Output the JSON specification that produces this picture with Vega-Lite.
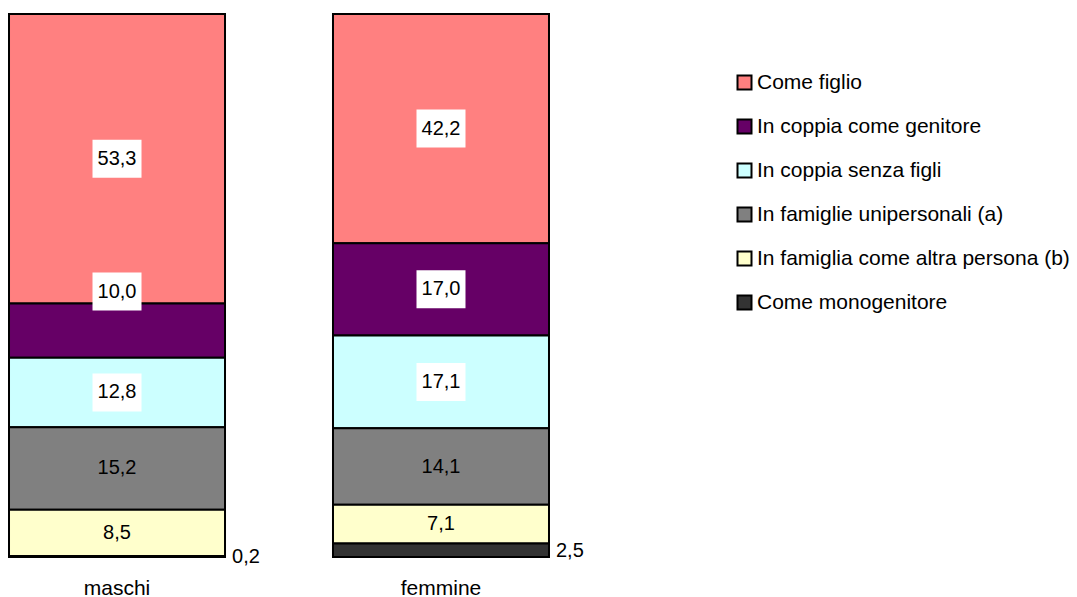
{
  "$schema": "https://vega.github.io/schema/vega-lite/v6.json",
  "width": 558,
  "height": 543,
  "autosize": {"type": "none"},
  "padding": {"left": 0, "top": 14, "right": 519, "bottom": 40},
  "background": "white",
  "config": {
    "view": {"stroke": null},
    "font": "Liberation Sans",
    "locale": {"number": {"decimal": ",", "thousands": ".", "grouping": [3], "currency": ["", " €"]}}
  },
  "data": {
    "values": [
      {"sesso": "maschi", "cat": "Come figlio", "ord": 6, "v": 53.3},
      {"sesso": "maschi", "cat": "In coppia come genitore", "ord": 5, "v": 10.0},
      {"sesso": "maschi", "cat": "In coppia senza figli", "ord": 4, "v": 12.8},
      {"sesso": "maschi", "cat": "In famiglie unipersonali (a)", "ord": 3, "v": 15.2},
      {"sesso": "maschi", "cat": "In famiglia come altra persona (b)", "ord": 2, "v": 8.5},
      {"sesso": "maschi", "cat": "Come monogenitore", "ord": 1, "v": 0.2},
      {"sesso": "femmine", "cat": "Come figlio", "ord": 6, "v": 42.2},
      {"sesso": "femmine", "cat": "In coppia come genitore", "ord": 5, "v": 17.0},
      {"sesso": "femmine", "cat": "In coppia senza figli", "ord": 4, "v": 17.1},
      {"sesso": "femmine", "cat": "In famiglie unipersonali (a)", "ord": 3, "v": 14.1},
      {"sesso": "femmine", "cat": "In famiglia come altra persona (b)", "ord": 2, "v": 7.1},
      {"sesso": "femmine", "cat": "Come monogenitore", "ord": 1, "v": 2.5}
    ]
  },
  "transform": [
    {"stack": "v", "groupby": ["sesso"], "sort": [{"field": "ord", "order": "ascending"}], "as": ["y0", "y1"]},
    {"calculate": "(datum.y0 + datum.y1) / 2", "as": "mid"}
  ],
  "encoding": {
    "x": {
      "field": "sesso",
      "type": "nominal",
      "sort": ["maschi", "femmine"],
      "scale": {"paddingInner": 0.3333, "paddingOuter": 0.0278},
      "axis": {
        "title": null,
        "domain": false,
        "ticks": false,
        "labelAngle": 0,
        "labelFontSize": 21,
        "labelFont": "Liberation Sans",
        "labelColor": "black",
        "labelPadding": 20
      }
    }
  },
  "layer": [
    {
      "mark": {"type": "bar", "stroke": "black", "strokeWidth": 2},
      "encoding": {
        "y": {"field": "y0", "type": "quantitative", "scale": {"domain": [0, 100], "nice": false}, "axis": null},
        "y2": {"field": "y1"},
        "color": {
          "field": "cat",
          "type": "nominal",
          "scale": {
            "domain": ["Come figlio", "In coppia come genitore", "In coppia senza figli", "In famiglie unipersonali (a)", "In famiglia come altra persona (b)", "Come monogenitore"],
            "range": ["#FF8080", "#660066", "#CCFFFF", "#808080", "#FFFFCC", "#333333"]
          },
          "legend": {
            "orient": "none",
            "legendX": 734,
            "legendY": 58,
            "title": null,
            "padding": 0,
            "symbolType": "square",
            "symbolSize": 196,
            "symbolStrokeColor": "black",
            "symbolStrokeWidth": 2,
            "symbolOpacity": 1,
            "labelFontSize": 21,
            "labelFont": "Liberation Sans",
            "labelColor": "black",
            "labelOffset": 2,
            "rowPadding": 21,
            "labelLimit": 400
          }
        }
      }
    },
    {
      "transform": [{"filter": "(datum.cat === 'Come figlio' || datum.cat === 'In coppia come genitore' || datum.cat === 'In coppia senza figli') && !(datum.sesso === 'maschi' && datum.cat === 'In coppia come genitore')"}],
      "mark": {"type": "point", "shape": "M-1.225,-0.95H1.225V0.95H-1.225Z", "size": 1600, "filled": true, "fill": "white", "opacity": 1, "strokeWidth": 0},
      "encoding": {"y": {"field": "mid", "type": "quantitative", "scale": {"domain": [0, 100], "nice": false}, "axis": null}}
    },
    {
      "transform": [{"filter": "datum.sesso === 'maschi' && datum.cat === 'In coppia come genitore'"}],
      "mark": {"type": "point", "shape": "M-1.225,-0.95H1.225V0.95H-1.225Z", "size": 1600, "filled": true, "fill": "white", "opacity": 1, "strokeWidth": 0, "yOffset": -39},
      "encoding": {"y": {"field": "mid", "type": "quantitative", "scale": {"domain": [0, 100], "nice": false}, "axis": null}}
    },
    {
      "transform": [{"filter": "datum.cat !== 'Come monogenitore' && !(datum.sesso === 'maschi' && datum.cat === 'In coppia come genitore')"}],
      "mark": {"type": "text", "fontSize": 20, "font": "Liberation Sans", "color": "black", "align": "center", "baseline": "middle"},
      "encoding": {
        "y": {"field": "mid", "type": "quantitative", "scale": {"domain": [0, 100], "nice": false}, "axis": null},
        "text": {"field": "v", "type": "quantitative", "format": ".1f"}
      }
    },
    {
      "transform": [{"filter": "datum.sesso === 'maschi' && datum.cat === 'In coppia come genitore'"}],
      "mark": {"type": "text", "fontSize": 20, "font": "Liberation Sans", "color": "black", "align": "center", "baseline": "middle", "yOffset": -39},
      "encoding": {
        "y": {"field": "mid", "type": "quantitative", "scale": {"domain": [0, 100], "nice": false}, "axis": null},
        "text": {"field": "v", "type": "quantitative", "format": ".1f"}
      }
    },
    {
      "transform": [{"filter": "datum.cat === 'Come monogenitore'"}],
      "mark": {"type": "text", "fontSize": 20, "font": "Liberation Sans", "color": "black", "align": "left", "baseline": "middle", "dx": 115, "dy": 1},
      "encoding": {
        "y": {"field": "mid", "type": "quantitative", "scale": {"domain": [0, 100], "nice": false}, "axis": null},
        "text": {"field": "v", "type": "quantitative", "format": ".1f"}
      }
    }
  ]
}
